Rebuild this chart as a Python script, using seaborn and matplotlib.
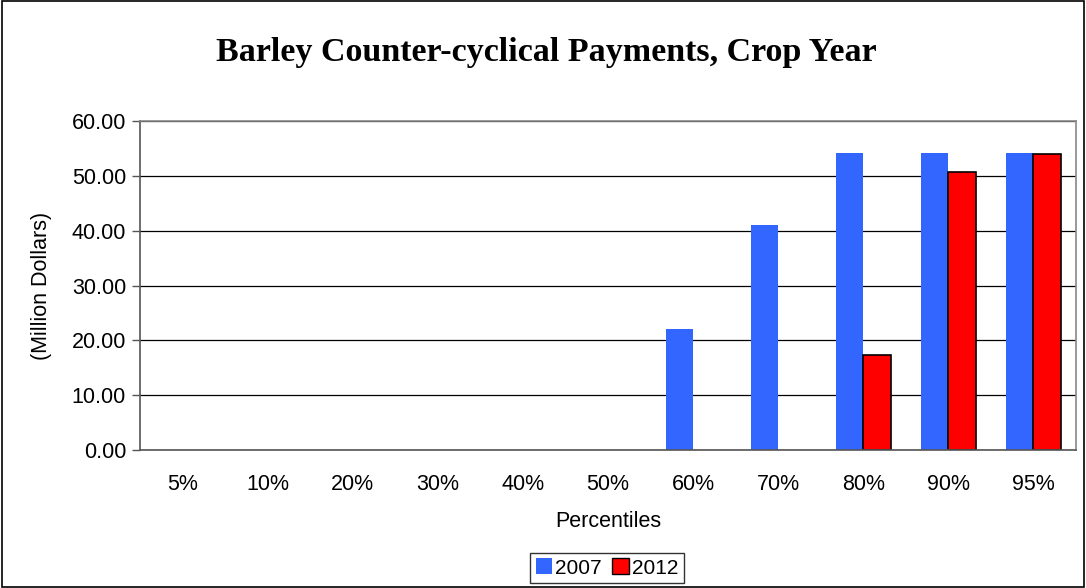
import matplotlib
matplotlib.use("Agg")
import matplotlib.pyplot as plt
import seaborn as sns
import pandas as pd
from matplotlib.patches import Rectangle, Patch

percentiles = ["5%", "10%", "20%", "30%", "40%", "50%", "60%", "70%", "80%", "90%", "95%"]
values_2007 = [0, 0, 0, 0, 0, 0, 22.0, 41.0, 54.2, 54.2, 54.2]
values_2012 = [0, 0, 0, 0, 0, 0, 0, 0, 17.4, 50.7, 53.9]
series = ["2007", "2012"]
colors = ["#3366FF", "#FF0000"]

df = pd.DataFrame({
    "Percentile": percentiles * 2,
    "Value": values_2007 + values_2012,
    "Year": [series[0]] * len(percentiles) + [series[1]] * len(percentiles),
})

sns.set_style("white")
plt.rcParams["font.family"] = ["Liberation Sans", "DejaVu Sans"]
plt.rcParams["text.color"] = "black"
plt.rcParams["axes.labelcolor"] = "black"
plt.rcParams["xtick.color"] = "black"
plt.rcParams["ytick.color"] = "black"

FS = 15.5

fig = plt.figure(figsize=(10.86, 5.88), dpi=100)
ax = fig.add_axes([140 / 1086, 1 - 450 / 588, (1076 - 140) / 1086, (450 - 121) / 588])

sns.barplot(data=df, x="Percentile", y="Value", hue="Year", palette=colors,
            width=0.64, ax=ax, saturation=1, legend=False)

for cont, col in zip(ax.containers, colors):
    for p in cont.patches:
        if col == "#FF0000" and p.get_height() > 0:
            p.set_edgecolor("black")
            p.set_linewidth(1.2)
        else:
            p.set_edgecolor("none")
            p.set_linewidth(0)

ax.set_ylim(0, 60)
ax.set_xlim(-0.5, len(percentiles) - 0.5)
ax.set_yticks(range(0, 61, 10))
ax.set_yticklabels([f"{v:.2f}" for v in range(0, 61, 10)], fontsize=FS)
ax.set_xticks(range(len(percentiles)))
ax.set_xticklabels(percentiles, fontsize=FS)
ax.yaxis.grid(True, color="black", linewidth=0.9)
ax.set_axisbelow(True)

ax.set_xticks([i - 0.5 for i in range(len(percentiles) + 1)], minor=True)
ax.tick_params(axis="x", which="major", length=0, pad=17, colors="black")
ax.tick_params(axis="x", which="minor", length=6, width=1, color="#555555", direction="out")
ax.tick_params(axis="y", which="major", length=6, width=1, color="#555555", labelcolor="black",
               direction="out", left=True, pad=4)

for s in ["left", "bottom"]:
    ax.spines[s].set_color("#555555")
    ax.spines[s].set_linewidth(1.2)
for s in ["top", "right"]:
    ax.spines[s].set_visible(True)
    ax.spines[s].set_color("#888888")
    ax.spines[s].set_linewidth(1.2)

ax.set_xlabel("Percentiles", fontsize=FS, labelpad=12)
ax.set_ylabel("(Million Dollars)", fontsize=FS, labelpad=14)

fig.text(0.5 + 3 / 1086, 1 - 52 / 588, "Barley Counter-cyclical Payments, Crop Year",
         ha="center", va="center", fontsize=24.5, fontweight="bold", color="black",
         family=["Liberation Serif", "DejaVu Serif"])

handles = [Patch(facecolor=colors[0], edgecolor="none", label=series[0]),
           Patch(facecolor=colors[1], edgecolor="black", linewidth=1, label=series[1])]
leg = fig.legend(handles=handles, loc="center", bbox_to_anchor=(607 / 1086, 1 - 568 / 588),
                 ncol=2, frameon=True, fontsize=FS - 0.5, handlelength=0.8, handleheight=0.8,
                 handletextpad=0.15, columnspacing=0.5, borderpad=0.25, fancybox=False,
                 borderaxespad=0)
leg.get_frame().set_edgecolor("black")
leg.get_frame().set_linewidth(1)

fig.patches.append(Rectangle((0.002, 0.002), 0.996, 0.996, transform=fig.transFigure,
                             fill=False, edgecolor="black", linewidth=1.2))

fig.savefig("out.png", dpi=100)
